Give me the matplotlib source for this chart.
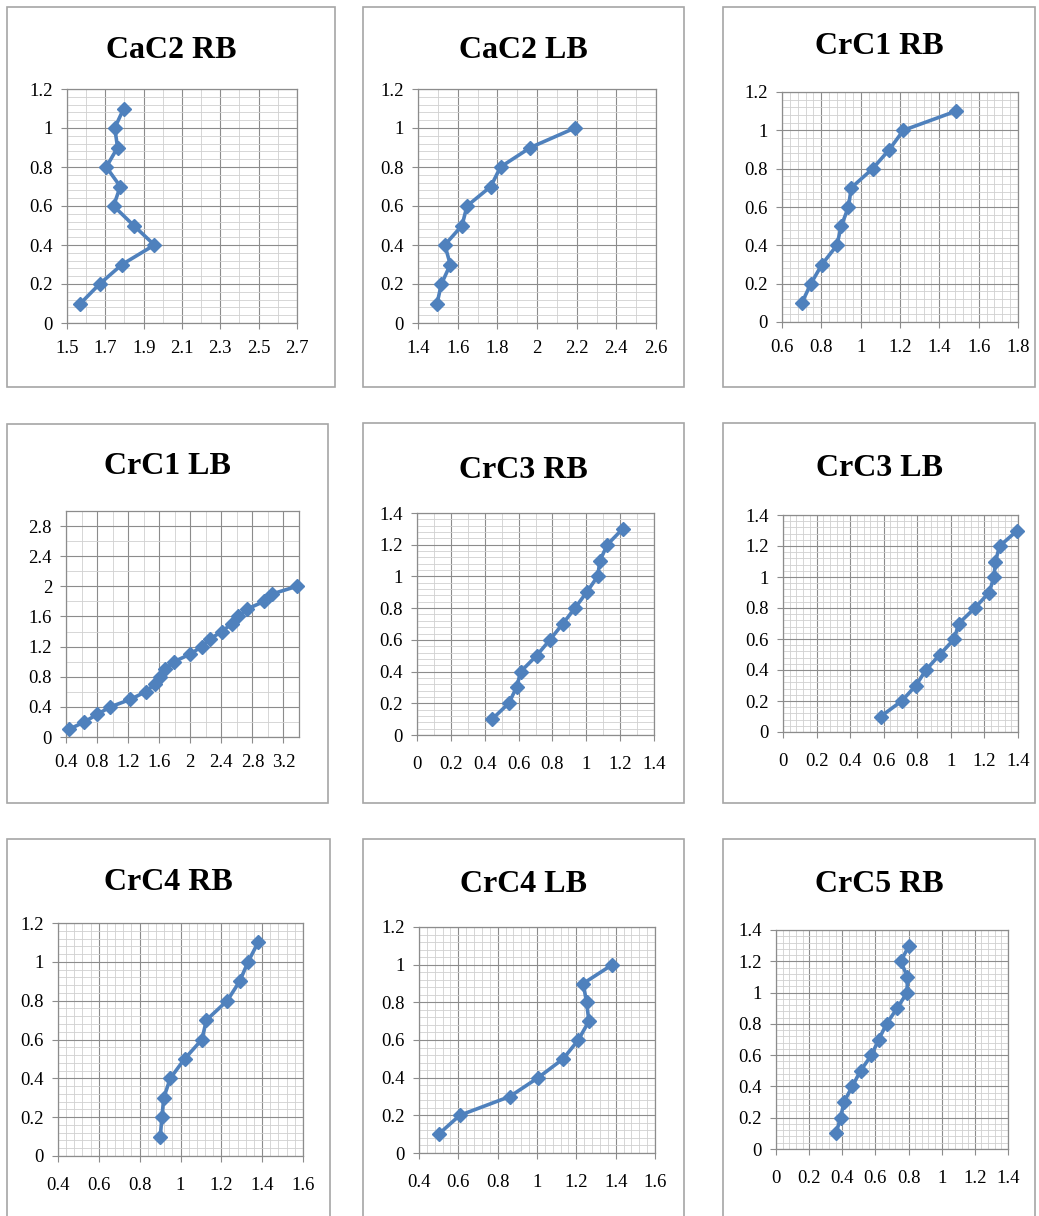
import numpy as np
import matplotlib.pyplot as plt
from matplotlib.patches import Rectangle
from matplotlib.ticker import MultipleLocator

# y values: depth steps, x values
y_11 = [0.1, 0.2, 0.3, 0.4, 0.5, 0.6, 0.7, 0.8, 0.9, 1.0, 1.1]
y_10 = [0.1, 0.2, 0.3, 0.4, 0.5, 0.6, 0.7, 0.8, 0.9, 1.0]
y_13 = [0.1, 0.2, 0.3, 0.4, 0.5, 0.6, 0.7, 0.8, 0.9, 1.0, 1.1, 1.2, 1.3]
y_20 = [0.1, 0.2, 0.3, 0.4, 0.5, 0.6, 0.7, 0.8, 0.9, 1.0,
        1.1, 1.2, 1.3, 1.4, 1.5, 1.6, 1.7, 1.8, 1.9, 2.0]

cac2_rb = [1.57, 1.67, 1.787, 1.956, 1.848, 1.743, 1.778, 1.705, 1.764, 1.749, 1.796]
cac2_lb = [1.496, 1.518, 1.563, 1.535, 1.622, 1.647, 1.767, 1.816, 1.967, 2.191]
crc1_rb = [0.701, 0.747, 0.803, 0.879, 0.901, 0.938, 0.952, 1.061, 1.146, 1.217, 1.484]
crc1_lb = [0.434, 0.637, 0.80, 0.972, 1.23, 1.424, 1.54, 1.61, 1.68, 1.79,
           2.0, 2.146, 2.254, 2.404, 2.533, 2.62, 2.735, 2.95, 3.058, 3.372]
crc3_rb = [0.444, 0.542, 0.588, 0.613, 0.706, 0.785, 0.86, 0.933, 1.002, 1.067,
           1.081, 1.124, 1.215]
crc3_lb = [0.582, 0.707, 0.792, 0.851, 0.935, 1.02, 1.047, 1.143, 1.228, 1.257,
           1.265, 1.291, 1.396]
crc4_rb = [0.901, 0.909, 0.918, 0.95, 1.02, 1.105, 1.127, 1.229, 1.29, 1.331, 1.38]
crc4_lb = [0.50, 0.607, 0.862, 1.006, 1.133, 1.21, 1.264, 1.252, 1.235, 1.383]
crc5_rb = [0.362, 0.39, 0.41, 0.46, 0.51, 0.576, 0.62, 0.667, 0.731, 0.791,
           0.793, 0.753, 0.803]

titles = ['CaC2 RB', 'CaC2 LB', 'CrC1 RB', 'CrC1 LB', 'CrC3 RB', 'CrC3 LB',
          'CrC4 RB', 'CrC4 LB', 'CrC5 RB']
xs = [cac2_rb, cac2_lb, crc1_rb, crc1_lb, crc3_rb, crc3_lb, crc4_rb, crc4_lb, crc5_rb]
ys = [y_11, y_10, y_11, y_20, y_13, y_13, y_11, y_10, y_13]

# axis setup: (xmin, xmax, xmajor, xminor, ymax, ymajor, yminor)
axis_cfg = [
    (1.5, 2.7, 0.2, 0.1, 1.2, 0.2, 0.04),
    (1.4, 2.6, 0.2, 0.1, 1.2, 0.2, 0.04),
    (0.6, 1.8, 0.2, 0.04, 1.2, 0.2, 0.04),
    (0.4, 3.4, 0.4, 0.2, 3.0, 0.4, 0.2),
    (0.0, 1.4, 0.2, 0.1, 1.4, 0.2, 0.04),
    (0.0, 1.4, 0.2, 0.04, 1.4, 0.2, 0.04),
    (0.4, 1.6, 0.2, 0.04, 1.2, 0.2, 0.04),
    (0.4, 1.6, 0.2, 0.04, 1.2, 0.2, 0.04),
    (0.0, 1.4, 0.2, 0.04, 1.4, 0.2, 0.04),
]

# layout in pixels: box (l, t, r, b), plot (l, t, r, b), title y
boxes = [(7, 7, 335, 387), (363, 7, 684, 387), (723, 7, 1035, 387),
         (7, 424, 328, 803), (363, 423, 684, 803), (723, 423, 1035, 803),
         (7, 839, 330, 1230), (363, 839, 684, 1230), (723, 839, 1035, 1230)]
plots = [(67, 89, 297, 323), (418, 89, 656, 323), (782, 92, 1018, 322),
         (66, 511, 299, 737), (417, 513, 654, 735), (783, 515, 1018, 732),
         (58, 923, 303, 1156), (419, 927, 655, 1153), (776, 930, 1008, 1149)]
title_y = [50, 50, 47, 467, 470, 468, 883, 885, 885]

W, H = 1039, 1216
fig = plt.figure(figsize=(W / 100, H / 100), dpi=100)
fig.patch.set_facecolor('white')

serif = ['Liberation Serif', 'DejaVu Serif']

for i in range(9):
    bl, bt, br, bb = boxes[i]
    fig.patches.append(Rectangle((bl / W, 1 - bb / H), (br - bl) / W, (bb - bt) / H,
                                 transform=fig.transFigure, fill=False,
                                 edgecolor='#A6A6A6', linewidth=1.2))
    fig.text((bl + br) / 2 / W, 1 - title_y[i] / H, titles[i], ha='center', va='center',
             fontsize=23, fontweight='bold', family=serif)

    pl, pt, pr, pb = plots[i]
    ax = fig.add_axes([pl / W, 1 - pb / H, (pr - pl) / W, (pb - pt) / H])
    xmin, xmax, xmaj, xmin_step, ymax, ymaj, ymin_step = axis_cfg[i]
    ax.set_xlim(xmin, xmax)
    ax.set_ylim(0, ymax)
    xt = np.arange(xmin, xmax + 1e-9, xmaj)
    if i == 3:
        xt = xt[xt <= 3.2 + 1e-9]
    ax.set_xticks(xt)
    ax.set_xticklabels(['%g' % round(v, 2) for v in xt])
    yt = np.arange(0, ymax + 1e-9, ymaj)
    if i == 3:
        yt = yt[yt <= 2.8 + 1e-9]
    ax.set_yticks(yt)
    ax.set_yticklabels(['%g' % round(v, 2) for v in yt])
    ax.xaxis.set_minor_locator(MultipleLocator(xmin_step))
    ax.yaxis.set_minor_locator(MultipleLocator(ymin_step))
    ax.grid(which='minor', color='#D0D0D0', linewidth=0.6)
    ax.grid(which='major', color='#8C8C8C', linewidth=0.8)
    ax.set_axisbelow(True)
    ax.tick_params(which='minor', length=0)
    ax.tick_params(which='major', length=4, color='#8C8C8C', direction='out',
                   labelsize=13.5, pad=6)
    for lab in ax.get_xticklabels() + ax.get_yticklabels():
        lab.set_family(serif)
    if i in (0, 1, 2, 3):
        ax.tick_params(axis='x', pad=8)
    else:
        ax.tick_params(axis='x', pad=11)
    for s in ax.spines.values():
        s.set_color('#8C8C8C')
        s.set_linewidth(0.9)

    ax.plot(xs[i], ys[i], color='#4F81BD', linewidth=2.6, marker='D',
            markersize=7, markerfacecolor='#4F81BD', markeredgecolor='#4F81BD',
            clip_on=False, zorder=3)

fig.savefig('out.png', dpi=100, facecolor='white')
